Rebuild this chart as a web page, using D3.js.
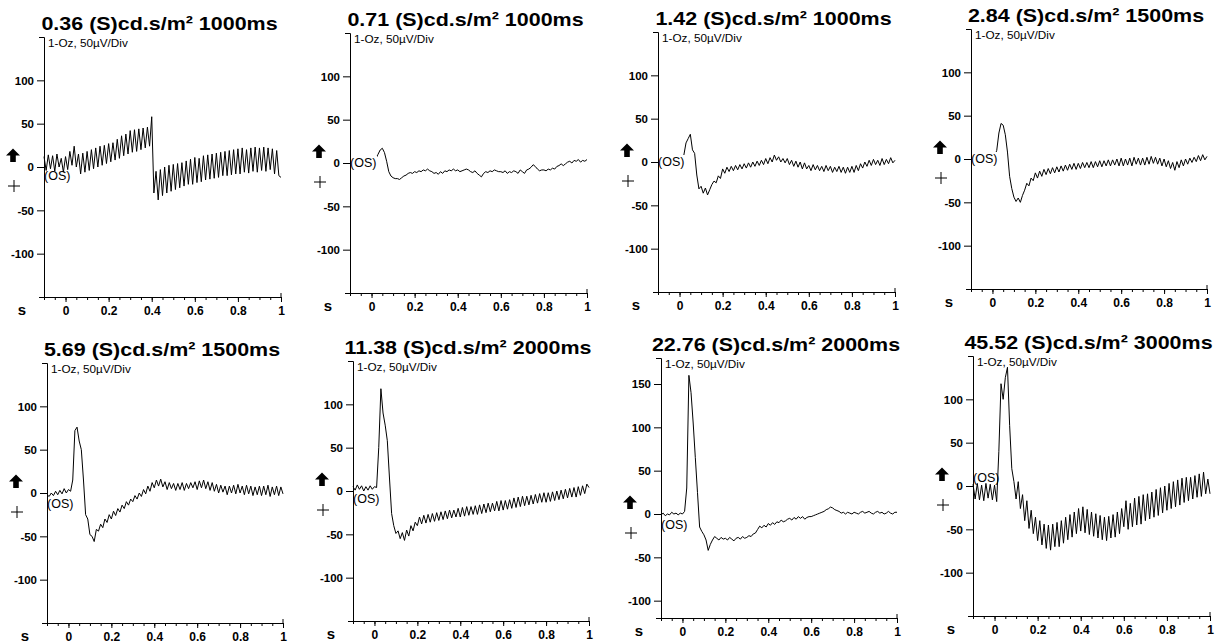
<!DOCTYPE html>
<html>
<head>
<meta charset="utf-8">
<script src="https://cdn.jsdelivr.net/npm/d3@7"></script>
<style>
  body { margin: 0; background: #fff; }
  text { font-family: "Liberation Sans", Arial, sans-serif; }
</style>
</head>
<body>
<svg id="chart" width="1226" height="644"></svg>
<script>
// flash strengths / titles
const titles = [
    "0.36 (S)cd.s/m\u00b2 1000ms",
    "0.71 (S)cd.s/m\u00b2 1000ms",
    "1.42 (S)cd.s/m\u00b2 1000ms",
    "2.84 (S)cd.s/m\u00b2 1500ms",
    "5.69 (S)cd.s/m\u00b2 1500ms",
    "11.38 (S)cd.s/m\u00b2 2000ms",
    "22.76 (S)cd.s/m\u00b2 2000ms",
    "45.52 (S)cd.s/m\u00b2 3000ms"
];
const channelLabel = "1-Oz, 50\u00b5V/Div";
const eyeLabel = "(OS)";

const yDomains = [
    [-150, 150], [-150, 150], [-150, 150], [-150, 150],
    [-150, 150], [-150, 150], [-120, 180], [-150, 150]
];
const yTickSets = [
    [-100, -50, 0, 50, 100], [-100, -50, 0, 50, 100], [-100, -50, 0, 50, 100], [-100, -50, 0, 50, 100],
    [-100, -50, 0, 50, 100], [-100, -50, 0, 50, 100], [-100, -50, 0, 50, 100, 150], [-100, -50, 0, 50, 100]
];
const xDomain = [-0.1, 1];
const xTicks = [0, 0.2, 0.4, 0.6, 0.8, 1];
const xMinorTicks = [-0.1, -0.05, 0, 0.05, 0.1, 0.15, 0.2, 0.25, 0.3, 0.35, 0.4, 0.45,
    0.5, 0.55, 0.6, 0.65, 0.7, 0.75, 0.8, 0.85, 0.9, 0.95, 1];

// samples (µV) every 10 ms, starting at -0.1 s
const sampleStart = -0.1;
const sampleStep = 0.01;

const wave036 = [
    12, -4, 14, -2, 13, -5, 15, 0, 10, -6,
    12, -3, 18, 2, 24, 0, 15, -8, 16, -6,
    18, -4, 20, -2, 22, 0, 24, 2, 25, 4,
    27, 6, 28, 8, 32, 10, 36, 13, 38, 15,
    42, 17, 43, 18, 44, 20, 45, 22, 46, 24,
    58, -30, -5, -38, -3, -33, 0, -30, 2, -28,
    3, -26, 4, -24, 5, -22, 7, -20, 9, -20,
    11, -18, 10, -17, 13, -15, 14, -14, 15, -13,
    16, -12, 17, -10, 18, -10, 19, -9, 20, -8,
    21, -8, 22, -6, 20, -7, 22, -5, 23, -6,
    22, -4, 23, -5, 22, -3, 21, -8, 19, -10, -12
];
const wave071 = [
    0, 1, 0, -1, 0, 1, 0, -1, 0, 1,
    0, 2, 5, 10, 15, 17, 12, 2, -10, -15,
    -17, -18, -18, -19, -17, -15, -14, -12, -11, -12,
    -10, -11, -9, -10, -8, -9, -7, -9, -10, -12,
    -11, -13, -10, -12, -9, -10, -8, -9, -7, -9,
    -8, -10, -9, -8, -7, -8, -10, -11, -9, -12,
    -14, -16, -12, -10, -11, -9, -10, -8, -9, -10,
    -10, -11, -9, -12, -10, -11, -9, -10, -12, -8,
    -10, -12, -8, -7, -5, -2, -4, -7, -9, -8,
    -8, -9, -7, -8, -6, -7, -4, -3, -1, -3,
    -1, 1, 2, 0, 3, 2, 4, 1, 3, 2, 4
];
const wave142 = [
    0, 1, 0, -1, 0, 1, 0, -1, 0, 1,
    0, 2, 8, 22, 27, 32, 14, 10, -15, -31,
    -28, -36, -30, -38, -32, -26, -22, -24, -16, -19,
    -8, -13, -6, -11, -5, -10, -4, -9, -3, -8,
    -2, -7, -1, -6, 0, -5, 1, -4, 2, -3,
    4, -2, 5, 0, 8, 2, 6, 0, 4, -1,
    4, -3, 2, -5, 1, -6, 0, -8, -1, -8,
    -4, -10, -3, -9, -4, -10, -5, -11, -4, -10,
    -5, -12, -6, -11, -5, -12, -6, -13, -6, -12,
    -5, -12, -4, -10, -2, -7, 0, -5, 2, -4,
    3, -3, 2, -4, 4, -3, 3, -2, 5, -1, 2
];
const wave284 = [
    0, 1, 0, -1, 0, 1, 0, -1, 0, 1,
    0, 3, 10, 30, 41, 39, 28, 8, -20, -34,
    -44, -49, -45, -50, -42, -36, -28, -31, -22, -25,
    -16, -22, -14, -20, -12, -18, -11, -17, -10, -16,
    -9, -15, -8, -14, -7, -13, -6, -12, -5, -12,
    -5, -11, -4, -10, -4, -10, -3, -10, -3, -9,
    -2, -9, -2, -8, -1, -8, -1, -7, 0, -8,
    1, -8, 0, -7, 1, -8, 2, -6, 1, -7,
    1, -7, 2, -6, 3, -5, 2, -6, 1, -8,
    0, -9, -2, -11, -4, -13, -3, -10, -1, -8,
    0, -6, 1, -4, 2, -3, 4, -2, 5, -1, 3
];
const wave569 = [
    -2, -4, 0, -3, 2, -2, 3, -1, 5, 0,
    4, 2, 15, 72, 76, 60, 50, 15, -25, -30,
    -48, -50, -56, -42, -44, -36, -40, -30, -34, -25,
    -30, -21, -26, -18, -22, -14, -18, -10, -14, -7,
    -10, -3, -7, 0, -4, 4, -1, 8, 2, 12,
    6, 15, 8, 16, 7, 13, 4, 12, 5, 11,
    3, 11, 4, 12, 3, 11, 5, 12, 6, 13,
    4, 14, 6, 15, 5, 13, 3, 12, 2, 10,
    0, 9, 1, 8, -2, 8, 0, 9, -1, 10,
    0, 8, -2, 9, -1, 8, -3, 7, -2, 8,
    -3, 8, -2, 9, -4, 7, -2, 8, -3, 7, -1
];
const wave1138 = [
    5, 1, 7, 2, 6, 0, 5, 1, 6, 2,
    5, 4, 50, 118, 90, 76, 58, 15, -26, -40,
    -49, -46, -55, -48, -57, -45, -52, -40, -46, -36,
    -40, -30, -38, -28, -37, -27, -36, -26, -35, -25,
    -34, -24, -33, -23, -32, -22, -31, -22, -30, -20,
    -30, -19, -29, -18, -28, -18, -27, -17, -27, -16,
    -26, -15, -25, -14, -24, -14, -23, -12, -23, -11,
    -22, -11, -21, -10, -20, -8, -19, -7, -18, -6,
    -17, -6, -16, -5, -15, -4, -14, -3, -13, -2,
    -13, -2, -12, -1, -11, 0, -10, 1, -9, 2,
    -8, 3, -7, 4, -7, 5, -5, 6, -3, 8, 4
];
const wave2276 = [
    -1, 1, -2, 0, -1, 2, 0, 1, -1, 1,
    0, 3, 30, 160, 140, 105, 65, 25, -15, -20,
    -24, -30, -42, -35, -30, -26, -28, -30, -27, -29,
    -28, -30, -27, -29, -31, -28, -27, -29, -26, -28,
    -27, -25, -26, -23, -22, -18, -14, -16, -13, -15,
    -11, -13, -10, -12, -9, -10, -7, -9, -8, -6,
    -5, -7, -4, -6, -3, -5, -3, -6, -4, -3,
    -3, -2, -1, 0, 1, 2, 3, 5, 6, 8,
    7, 5, 4, 3, 1, 2, 0, 2, 1, 0,
    2, 1, 0, 2, 3, 1, 2, 3, 1, 0,
    2, 3, 1, 2, 0, 1, 3, 1, 0, 2, 2
];
const wave4552 = [
    2, -15, 3, -16, 1, -17, 3, -14, 2, -16,
    1, -18, 40, 118, 100, 125, 137, 70, 20, 5,
    -15, 5, -26, -10, -40, -17, -49, -28, -55, -36,
    -63, -40, -68, -44, -72, -45, -74, -44, -70, -42,
    -70, -40, -66, -36, -62, -33, -59, -30, -55, -26,
    -52, -24, -54, -27, -56, -30, -58, -32, -60, -34,
    -62, -36, -63, -35, -60, -33, -59, -30, -55, -26,
    -47, -17, -50, -20, -47, -14, -45, -12, -44, -10,
    -40, -9, -38, -7, -36, -4, -34, -2, -31, 0,
    -28, 3, -26, 5, -24, 7, -22, 9, -19, 10,
    -17, 10, -15, 12, -13, 14, -12, 16, -9, 8, -9
];
const waves = [wave036, wave071, wave142, wave284, wave569, wave1138, wave2276, wave4552];

// panel placement on the page
const boxes = [
    {left: 44,  right: 281,  top: 37,  osDy: 13, osMask: false},
    {left: 350, right: 587,  top: 33,  osDy: 4,  osMask: true},
    {left: 658, right: 895,  top: 32,  osDy: 4,  osMask: true},
    {left: 971, right: 1207, top: 29,  osDy: 4,  osMask: true},
    {left: 47,  right: 283,  top: 363, osDy: 15, osMask: false},
    {left: 353, right: 589,  top: 361, osDy: 12, osMask: false},
    {left: 661, right: 897,  top: 358, osDy: 15, osMask: false},
    {left: 973, right: 1210, top: 356, osDy: -4, osMask: false}
];
const plotHeight = 260;

class ErgPlot {
    constructor(svg, title, values, yDomain, yTicks, box) {
        this.svg = svg;
        this.title = title;
        this.values = values;
        this.yDomain = yDomain;
        this.yTicks = yTicks;
        this.box = box;
    }

    initialize() {
        this.container = this.svg.append("g");
        this.bottom = this.box.top + plotHeight;

        this.xScale = d3.scaleLinear().domain(xDomain).range([this.box.left, this.box.right]);
        this.yScale = d3.scaleLinear().domain(this.yDomain).range([this.bottom, this.box.top]);
    }

    update() {
        const b = this.box;
        const zeroY = this.yScale(0);

        // y axis
        this.container.append("g")
            .attr("transform", `translate(${b.left},0)`)
            .call(d3.axisLeft(this.yScale)
                .tickValues(this.yTicks)
                .tickSize(7).tickPadding(3).tickSizeOuter(5)
                .tickFormat(d => String(d)))
            .attr("font-size", 11.5)
            .attr("font-weight", "bold");

        // x axis: minor ticks, then labelled ones
        this.container.append("g")
            .attr("transform", `translate(0,${this.bottom})`)
            .call(d3.axisBottom(this.xScale)
                .tickValues(xMinorTicks).tickSize(3).tickSizeOuter(0).tickFormat(""));

        const xMajor = this.container.append("g")
            .attr("transform", `translate(0,${this.bottom})`)
            .call(d3.axisBottom(this.xScale)
                .tickValues(xTicks).tickSize(5).tickPadding(4)
                .tickFormat(d => String(d)))
            .attr("font-size", 12)
            .attr("font-weight", "bold");
        xMajor.select(".domain").remove();

        this.container.append("line")
            .attr("x1", this.xScale(1)).attr("x2", this.xScale(1))
            .attr("y1", this.bottom).attr("y2", this.bottom - 4)
            .attr("stroke", "#000");

        this.container.selectAll(".domain, .tick line").attr("stroke", "#000");

        // unit label under the axis
        this.container.append("text")
            .attr("x", b.left - 22).attr("y", this.bottom + 18)
            .attr("text-anchor", "middle")
            .attr("font-size", 15).attr("font-weight", "bold")
            .text("s");

        // trace
        const line = d3.line()
            .x((d, i) => this.xScale(sampleStart + i * sampleStep))
            .y(d => this.yScale(d));

        this.container.append("path")
            .datum(this.values)
            .attr("d", line)
            .attr("fill", "none")
            .attr("stroke", "#000")
            .attr("stroke-width", 1)
            .attr("stroke-linejoin", "round");

        // eye label
        if (b.osMask) {
            this.container.append("rect")
                .attr("x", b.left + 1).attr("y", zeroY + b.osDy - 11)
                .attr("width", 26).attr("height", 15)
                .attr("fill", "#fff");
        }
        this.container.append("text")
            .attr("x", b.left).attr("y", zeroY + b.osDy)
            .attr("font-size", 12.5)
            .text(eyeLabel);

        // polarity arrow and cross marker
        this.container.append("path")
            .attr("transform", `translate(${b.left - 31},${zeroY - 12})`)
            .attr("d", "M0,-6.5L7,0.5H2.8V7H-2.8V0.5H-7Z")
            .attr("fill", "#000");

        const cx = b.left - 30, cy = zeroY + 19;
        this.container.append("path")
            .attr("d", `M${cx - 6},${cy}H${cx + 6}M${cx},${cy - 6}V${cy + 6}`)
            .attr("stroke", "#000").attr("stroke-width", 1);

        // titles
        this.container.append("text")
            .attr("transform", `translate(${(b.left + b.right) / 2 - 3},${b.top - 7}) scale(1.13,1)`)
            .attr("text-anchor", "middle")
            .attr("font-size", 19).attr("font-weight", "bold")
            .text(this.title);

        this.container.append("text")
            .attr("transform", `translate(${b.left + 4},${b.top + 10}) scale(1.12,1)`)
            .attr("font-size", 10.5)
            .text(channelLabel);
    }
}

const svg = d3.select("#chart");
titles.forEach((t, k) => {
    const plot = new ErgPlot(svg, t, waves[k], yDomains[k], yTickSets[k], boxes[k]);
    plot.initialize();
    plot.update();
});
</script>
</body>
</html>
